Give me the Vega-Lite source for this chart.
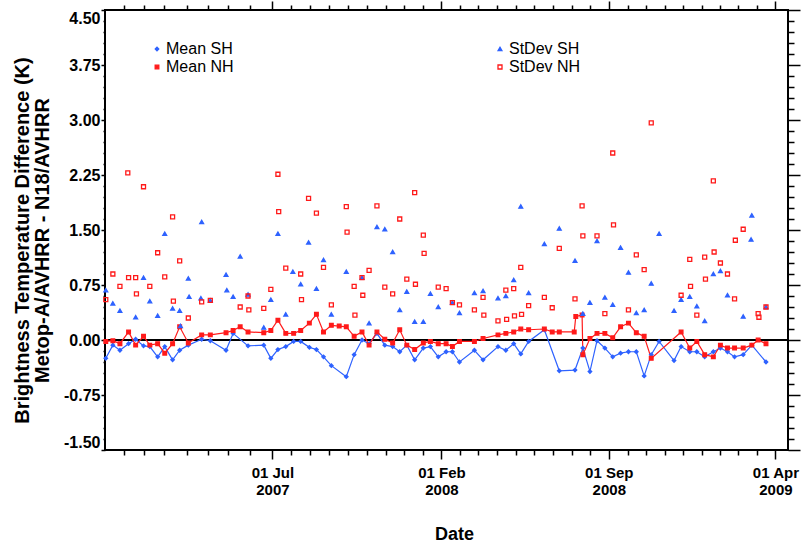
{
"$schema": "https://vega.github.io/schema/vega-lite/v6.json",
"width": 683, "height": 440,
"autosize": {"type": "none"},
"padding": {"left": 105, "top": 10, "right": 13, "bottom": 92},
"background": "white",
"config": {
  "view": {"stroke": "black", "strokeWidth": 2},
  "font": "Liberation Sans",
  "axis": {"grid": false, "domain": false, "ticks": true, "labelColor": "black", "titleColor": "black", "labelFont": "Liberation Sans", "titleFont": "Liberation Sans", "labelFontWeight": "bold", "titleFontWeight": "bold", "labelOverlap": false},
  "legend": {"orient": "none", "legendX": 44, "legendY": 31, "columns": 2, "columnPadding": 258, "rowPadding": 2, "padding": 0, "labelFontSize": 16, "labelFont": "Liberation Sans", "labelOffset": 1, "symbolStrokeWidth": 1.3}
},
"data": {"values": [
{"date":"2006-12-01","series":"Mean SH","value":-0.25},{"date":"2006-12-10","series":"Mean SH","value":-0.07},{"date":"2006-12-19","series":"Mean SH","value":-0.14},{"date":"2006-12-30","series":"Mean SH","value":-0.05},{"date":"2007-01-08","series":"Mean SH","value":0.01},{"date":"2007-01-18","series":"Mean SH","value":-0.08},{"date":"2007-01-26","series":"Mean SH","value":-0.09},{"date":"2007-02-05","series":"Mean SH","value":-0.23},{"date":"2007-02-14","series":"Mean SH","value":-0.09},{"date":"2007-02-24","series":"Mean SH","value":-0.27},{"date":"2007-03-05","series":"Mean SH","value":-0.14},{"date":"2007-03-16","series":"Mean SH","value":-0.07},{"date":"2007-04-02","series":"Mean SH","value":0.01},{"date":"2007-04-13","series":"Mean SH","value":-0.01},{"date":"2007-05-03","series":"Mean SH","value":-0.14},{"date":"2007-05-12","series":"Mean SH","value":0.09},{"date":"2007-05-31","series":"Mean SH","value":-0.08},{"date":"2007-06-20","series":"Mean SH","value":-0.07},{"date":"2007-06-29","series":"Mean SH","value":-0.25},{"date":"2007-07-08","series":"Mean SH","value":-0.13},{"date":"2007-07-18","series":"Mean SH","value":-0.09},{"date":"2007-07-28","series":"Mean SH","value":-0.02},{"date":"2007-08-06","series":"Mean SH","value":-0.02},{"date":"2007-08-17","series":"Mean SH","value":-0.10},{"date":"2007-08-26","series":"Mean SH","value":-0.13},{"date":"2007-09-04","series":"Mean SH","value":-0.23},{"date":"2007-09-14","series":"Mean SH","value":-0.35},{"date":"2007-10-03","series":"Mean SH","value":-0.50},{"date":"2007-10-13","series":"Mean SH","value":-0.20},{"date":"2007-10-23","series":"Mean SH","value":0.00},{"date":"2007-11-01","series":"Mean SH","value":-0.05},{"date":"2007-11-11","series":"Mean SH","value":0.09},{"date":"2007-11-21","series":"Mean SH","value":-0.07},{"date":"2007-12-01","series":"Mean SH","value":-0.09},{"date":"2007-12-10","series":"Mean SH","value":-0.16},{"date":"2007-12-19","series":"Mean SH","value":-0.07},{"date":"2007-12-29","series":"Mean SH","value":-0.27},{"date":"2008-01-09","series":"Mean SH","value":-0.11},{"date":"2008-01-18","series":"Mean SH","value":-0.09},{"date":"2008-01-28","series":"Mean SH","value":-0.23},{"date":"2008-02-07","series":"Mean SH","value":-0.16},{"date":"2008-02-15","series":"Mean SH","value":-0.16},{"date":"2008-02-24","series":"Mean SH","value":-0.30},{"date":"2008-03-14","series":"Mean SH","value":-0.14},{"date":"2008-03-25","series":"Mean SH","value":-0.27},{"date":"2008-04-13","series":"Mean SH","value":-0.09},{"date":"2008-04-23","series":"Mean SH","value":-0.14},{"date":"2008-05-03","series":"Mean SH","value":-0.05},{"date":"2008-05-12","series":"Mean SH","value":-0.19},{"date":"2008-05-22","series":"Mean SH","value":-0.02},{"date":"2008-06-11","series":"Mean SH","value":0.14},{"date":"2008-06-30","series":"Mean SH","value":-0.42},{"date":"2008-07-20","series":"Mean SH","value":-0.41},{"date":"2008-07-30","series":"Mean SH","value":-0.11},{"date":"2008-08-08","series":"Mean SH","value":-0.43},{"date":"2008-08-17","series":"Mean SH","value":-0.01},{"date":"2008-08-27","series":"Mean SH","value":-0.11},{"date":"2008-09-06","series":"Mean SH","value":-0.23},{"date":"2008-09-16","series":"Mean SH","value":-0.18},{"date":"2008-09-26","series":"Mean SH","value":-0.16},{"date":"2008-10-06","series":"Mean SH","value":-0.16},{"date":"2008-10-16","series":"Mean SH","value":-0.49},{"date":"2008-10-25","series":"Mean SH","value":-0.20},{"date":"2008-11-04","series":"Mean SH","value":-0.02},{"date":"2008-11-23","series":"Mean SH","value":-0.28},{"date":"2008-12-02","series":"Mean SH","value":-0.09},{"date":"2008-12-13","series":"Mean SH","value":-0.16},{"date":"2008-12-22","series":"Mean SH","value":-0.16},{"date":"2009-01-01","series":"Mean SH","value":-0.23},{"date":"2009-01-12","series":"Mean SH","value":-0.16},{"date":"2009-01-21","series":"Mean SH","value":-0.11},{"date":"2009-01-30","series":"Mean SH","value":-0.16},{"date":"2009-02-08","series":"Mean SH","value":-0.23},{"date":"2009-02-19","series":"Mean SH","value":-0.20},{"date":"2009-03-02","series":"Mean SH","value":-0.07},{"date":"2009-03-20","series":"Mean SH","value":-0.30},
{"date":"2006-12-01","series":"Mean NH","value":-0.02},{"date":"2006-12-10","series":"Mean NH","value":-0.01},{"date":"2006-12-19","series":"Mean NH","value":-0.05},{"date":"2006-12-30","series":"Mean NH","value":0.11},{"date":"2007-01-08","series":"Mean NH","value":-0.07},{"date":"2007-01-18","series":"Mean NH","value":0.05},{"date":"2007-01-26","series":"Mean NH","value":-0.07},{"date":"2007-02-05","series":"Mean NH","value":-0.05},{"date":"2007-02-14","series":"Mean NH","value":-0.18},{"date":"2007-02-24","series":"Mean NH","value":-0.05},{"date":"2007-03-05","series":"Mean NH","value":0.18},{"date":"2007-03-16","series":"Mean NH","value":-0.04},{"date":"2007-04-02","series":"Mean NH","value":0.07},{"date":"2007-04-13","series":"Mean NH","value":0.07},{"date":"2007-05-03","series":"Mean NH","value":0.10},{"date":"2007-05-12","series":"Mean NH","value":0.13},{"date":"2007-05-21","series":"Mean NH","value":0.18},{"date":"2007-05-31","series":"Mean NH","value":0.11},{"date":"2007-06-20","series":"Mean NH","value":0.10},{"date":"2007-06-29","series":"Mean NH","value":0.13},{"date":"2007-07-08","series":"Mean NH","value":0.27},{"date":"2007-07-18","series":"Mean NH","value":0.09},{"date":"2007-07-28","series":"Mean NH","value":0.09},{"date":"2007-08-06","series":"Mean NH","value":0.13},{"date":"2007-08-17","series":"Mean NH","value":0.23},{"date":"2007-08-26","series":"Mean NH","value":0.35},{"date":"2007-09-04","series":"Mean NH","value":0.11},{"date":"2007-09-14","series":"Mean NH","value":0.20},{"date":"2007-09-24","series":"Mean NH","value":0.19},{"date":"2007-10-03","series":"Mean NH","value":0.18},{"date":"2007-10-13","series":"Mean NH","value":0.05},{"date":"2007-10-23","series":"Mean NH","value":0.11},{"date":"2007-11-01","series":"Mean NH","value":-0.07},{"date":"2007-11-11","series":"Mean NH","value":0.11},{"date":"2007-11-21","series":"Mean NH","value":0.01},{"date":"2007-12-01","series":"Mean NH","value":-0.04},{"date":"2007-12-10","series":"Mean NH","value":0.14},{"date":"2007-12-19","series":"Mean NH","value":-0.07},{"date":"2007-12-29","series":"Mean NH","value":-0.13},{"date":"2008-01-09","series":"Mean NH","value":-0.04},{"date":"2008-01-18","series":"Mean NH","value":-0.02},{"date":"2008-01-28","series":"Mean NH","value":-0.05},{"date":"2008-02-07","series":"Mean NH","value":-0.05},{"date":"2008-02-15","series":"Mean NH","value":-0.09},{"date":"2008-02-24","series":"Mean NH","value":-0.02},{"date":"2008-03-14","series":"Mean NH","value":-0.02},{"date":"2008-03-25","series":"Mean NH","value":0.02},{"date":"2008-04-13","series":"Mean NH","value":0.07},{"date":"2008-04-23","series":"Mean NH","value":0.09},{"date":"2008-05-03","series":"Mean NH","value":0.11},{"date":"2008-05-12","series":"Mean NH","value":0.15},{"date":"2008-05-22","series":"Mean NH","value":0.14},{"date":"2008-06-11","series":"Mean NH","value":0.15},{"date":"2008-06-21","series":"Mean NH","value":0.11},{"date":"2008-06-30","series":"Mean NH","value":0.11},{"date":"2008-07-19","series":"Mean NH","value":0.11},{"date":"2008-07-21","series":"Mean NH","value":0.32},{"date":"2008-07-29","series":"Mean NH","value":0.34},{"date":"2008-07-30","series":"Mean NH","value":-0.20},{"date":"2008-08-08","series":"Mean NH","value":0.02},{"date":"2008-08-17","series":"Mean NH","value":0.09},{"date":"2008-08-27","series":"Mean NH","value":0.09},{"date":"2008-09-06","series":"Mean NH","value":0.03},{"date":"2008-09-16","series":"Mean NH","value":0.18},{"date":"2008-09-26","series":"Mean NH","value":0.23},{"date":"2008-10-06","series":"Mean NH","value":0.10},{"date":"2008-10-16","series":"Mean NH","value":0.05},{"date":"2008-10-25","series":"Mean NH","value":-0.25},{"date":"2008-12-02","series":"Mean NH","value":0.11},{"date":"2008-12-13","series":"Mean NH","value":-0.11},{"date":"2008-12-22","series":"Mean NH","value":-0.02},{"date":"2009-01-01","series":"Mean NH","value":-0.20},{"date":"2009-01-12","series":"Mean NH","value":-0.23},{"date":"2009-01-21","series":"Mean NH","value":-0.07},{"date":"2009-01-30","series":"Mean NH","value":-0.11},{"date":"2009-02-08","series":"Mean NH","value":-0.11},{"date":"2009-02-19","series":"Mean NH","value":-0.11},{"date":"2009-03-02","series":"Mean NH","value":-0.07},{"date":"2009-03-10","series":"Mean NH","value":0.00},{"date":"2009-03-20","series":"Mean NH","value":-0.05},
{"date":"2006-12-01","series":"StDev SH","value":0.68},{"date":"2006-12-10","series":"StDev SH","value":0.50},{"date":"2006-12-19","series":"StDev SH","value":0.40},{"date":"2007-01-08","series":"StDev SH","value":0.31},{"date":"2007-01-18","series":"StDev SH","value":0.85},{"date":"2007-01-26","series":"StDev SH","value":0.53},{"date":"2007-02-05","series":"StDev SH","value":0.33},{"date":"2007-02-14","series":"StDev SH","value":1.45},{"date":"2007-02-24","series":"StDev SH","value":0.43},{"date":"2007-03-05","series":"StDev SH","value":0.40},{"date":"2007-03-06","series":"StDev SH","value":0.19},{"date":"2007-03-16","series":"StDev SH","value":0.84},{"date":"2007-03-17","series":"StDev SH","value":0.59},{"date":"2007-04-02","series":"StDev SH","value":1.61},{"date":"2007-04-01","series":"StDev SH","value":0.57},{"date":"2007-04-13","series":"StDev SH","value":0.54},{"date":"2007-05-03","series":"StDev SH","value":0.89},{"date":"2007-05-04","series":"StDev SH","value":0.68},{"date":"2007-05-12","series":"StDev SH","value":0.59},{"date":"2007-05-21","series":"StDev SH","value":1.14},{"date":"2007-05-31","series":"StDev SH","value":0.62},{"date":"2007-06-20","series":"StDev SH","value":0.17},{"date":"2007-06-29","series":"StDev SH","value":0.55},{"date":"2007-07-08","series":"StDev SH","value":1.45},{"date":"2007-07-18","series":"StDev SH","value":0.35},{"date":"2007-07-27","series":"StDev SH","value":0.93},{"date":"2007-08-06","series":"StDev SH","value":0.76},{"date":"2007-08-16","series":"StDev SH","value":1.33},{"date":"2007-08-26","series":"StDev SH","value":0.70},{"date":"2007-09-04","series":"StDev SH","value":1.09},{"date":"2007-09-14","series":"StDev SH","value":0.35},{"date":"2007-10-03","series":"StDev SH","value":0.93},{"date":"2007-10-23","series":"StDev SH","value":0.85},{"date":"2007-11-01","series":"StDev SH","value":0.23},{"date":"2007-11-11","series":"StDev SH","value":1.54},{"date":"2007-11-21","series":"StDev SH","value":1.51},{"date":"2007-12-01","series":"StDev SH","value":1.20},{"date":"2007-12-10","series":"StDev SH","value":0.41},{"date":"2007-12-19","series":"StDev SH","value":0.66},{"date":"2007-12-29","series":"StDev SH","value":0.25},{"date":"2008-01-09","series":"StDev SH","value":0.25},{"date":"2008-01-18","series":"StDev SH","value":0.63},{"date":"2008-01-28","series":"StDev SH","value":0.45},{"date":"2008-02-15","series":"StDev SH","value":0.51},{"date":"2008-02-24","series":"StDev SH","value":0.37},{"date":"2008-03-14","series":"StDev SH","value":0.64},{"date":"2008-03-25","series":"StDev SH","value":0.67},{"date":"2008-04-13","series":"StDev SH","value":0.57},{"date":"2008-04-23","series":"StDev SH","value":0.60},{"date":"2008-05-03","series":"StDev SH","value":0.82},{"date":"2008-05-12","series":"StDev SH","value":1.82},{"date":"2008-05-22","series":"StDev SH","value":0.64},{"date":"2008-06-11","series":"StDev SH","value":1.31},{"date":"2008-06-30","series":"StDev SH","value":1.52},{"date":"2008-07-20","series":"StDev SH","value":1.08},{"date":"2008-07-30","series":"StDev SH","value":0.36},{"date":"2008-08-08","series":"StDev SH","value":0.51},{"date":"2008-08-17","series":"StDev SH","value":1.35},{"date":"2008-08-27","series":"StDev SH","value":0.58},{"date":"2008-09-06","series":"StDev SH","value":0.48},{"date":"2008-09-16","series":"StDev SH","value":1.26},{"date":"2008-09-26","series":"StDev SH","value":0.92},{"date":"2008-10-06","series":"StDev SH","value":0.37},{"date":"2008-10-16","series":"StDev SH","value":0.41},{"date":"2008-10-25","series":"StDev SH","value":0.77},{"date":"2008-11-04","series":"StDev SH","value":1.45},{"date":"2008-11-23","series":"StDev SH","value":0.40},{"date":"2008-12-02","series":"StDev SH","value":0.55},{"date":"2008-12-13","series":"StDev SH","value":0.59},{"date":"2008-12-22","series":"StDev SH","value":0.46},{"date":"2009-01-01","series":"StDev SH","value":0.26},{"date":"2009-01-12","series":"StDev SH","value":0.90},{"date":"2009-01-21","series":"StDev SH","value":0.94},{"date":"2009-01-30","series":"StDev SH","value":0.61},{"date":"2009-02-19","series":"StDev SH","value":0.32},{"date":"2009-03-02","series":"StDev SH","value":1.70},{"date":"2009-03-01","series":"StDev SH","value":1.37},{"date":"2009-03-20","series":"StDev SH","value":0.45},
{"date":"2006-12-01","series":"StDev NH","value":0.55},{"date":"2006-12-10","series":"StDev NH","value":0.90},{"date":"2006-12-19","series":"StDev NH","value":0.73},{"date":"2006-12-29","series":"StDev NH","value":2.28},{"date":"2006-12-30","series":"StDev NH","value":0.85},{"date":"2007-01-08","series":"StDev NH","value":0.85},{"date":"2007-01-09","series":"StDev NH","value":0.63},{"date":"2007-01-18","series":"StDev NH","value":2.09},{"date":"2007-01-26","series":"StDev NH","value":0.73},{"date":"2007-02-05","series":"StDev NH","value":1.19},{"date":"2007-02-14","series":"StDev NH","value":0.86},{"date":"2007-02-24","series":"StDev NH","value":1.68},{"date":"2007-02-25","series":"StDev NH","value":0.53},{"date":"2007-03-05","series":"StDev NH","value":1.08},{"date":"2007-03-16","series":"StDev NH","value":0.30},{"date":"2007-04-02","series":"StDev NH","value":0.52},{"date":"2007-04-13","series":"StDev NH","value":0.54},{"date":"2007-05-21","series":"StDev NH","value":0.45},{"date":"2007-05-31","series":"StDev NH","value":0.60},{"date":"2007-06-01","series":"StDev NH","value":0.41},{"date":"2007-06-20","series":"StDev NH","value":0.43},{"date":"2007-06-29","series":"StDev NH","value":0.69},{"date":"2007-07-08","series":"StDev NH","value":2.26},{"date":"2007-07-09","series":"StDev NH","value":1.75},{"date":"2007-07-18","series":"StDev NH","value":0.98},{"date":"2007-08-06","series":"StDev NH","value":0.90},{"date":"2007-08-07","series":"StDev NH","value":0.55},{"date":"2007-08-16","series":"StDev NH","value":1.93},{"date":"2007-08-26","series":"StDev NH","value":1.73},{"date":"2007-09-04","series":"StDev NH","value":0.99},{"date":"2007-09-14","series":"StDev NH","value":0.48},{"date":"2007-10-03","series":"StDev NH","value":1.82},{"date":"2007-10-04","series":"StDev NH","value":1.47},{"date":"2007-10-13","series":"StDev NH","value":0.73},{"date":"2007-10-14","series":"StDev NH","value":0.34},{"date":"2007-10-23","series":"StDev NH","value":0.85},{"date":"2007-10-24","series":"StDev NH","value":0.61},{"date":"2007-11-01","series":"StDev NH","value":0.95},{"date":"2007-11-11","series":"StDev NH","value":1.83},{"date":"2007-11-21","series":"StDev NH","value":0.72},{"date":"2007-12-01","series":"StDev NH","value":0.63},{"date":"2007-12-10","series":"StDev NH","value":1.65},{"date":"2007-12-19","series":"StDev NH","value":0.83},{"date":"2007-12-29","series":"StDev NH","value":2.01},{"date":"2007-12-30","series":"StDev NH","value":0.76},{"date":"2008-01-09","series":"StDev NH","value":1.43},{"date":"2008-01-10","series":"StDev NH","value":1.18},{"date":"2008-01-28","series":"StDev NH","value":0.72},{"date":"2008-02-07","series":"StDev NH","value":0.70},{"date":"2008-02-15","series":"StDev NH","value":0.51},{"date":"2008-02-24","series":"StDev NH","value":0.48},{"date":"2008-03-14","series":"StDev NH","value":0.41},{"date":"2008-03-25","series":"StDev NH","value":0.58},{"date":"2008-03-26","series":"StDev NH","value":0.34},{"date":"2008-04-13","series":"StDev NH","value":0.26},{"date":"2008-04-23","series":"StDev NH","value":0.68},{"date":"2008-04-24","series":"StDev NH","value":0.28},{"date":"2008-05-03","series":"StDev NH","value":0.70},{"date":"2008-05-04","series":"StDev NH","value":0.33},{"date":"2008-05-12","series":"StDev NH","value":0.99},{"date":"2008-05-13","series":"StDev NH","value":0.35},{"date":"2008-05-22","series":"StDev NH","value":0.47},{"date":"2008-06-11","series":"StDev NH","value":0.58},{"date":"2008-06-21","series":"StDev NH","value":0.44},{"date":"2008-06-30","series":"StDev NH","value":1.25},{"date":"2008-07-20","series":"StDev NH","value":0.56},{"date":"2008-07-29","series":"StDev NH","value":1.83},{"date":"2008-07-30","series":"StDev NH","value":1.42},{"date":"2008-08-17","series":"StDev NH","value":1.42},{"date":"2008-08-27","series":"StDev NH","value":0.36},{"date":"2008-09-06","series":"StDev NH","value":2.55},{"date":"2008-09-07","series":"StDev NH","value":1.57},{"date":"2008-09-26","series":"StDev NH","value":0.41},{"date":"2008-10-06","series":"StDev NH","value":1.16},{"date":"2008-10-16","series":"StDev NH","value":0.96},{"date":"2008-10-25","series":"StDev NH","value":2.96},{"date":"2008-12-02","series":"StDev NH","value":0.61},{"date":"2008-12-13","series":"StDev NH","value":1.10},{"date":"2008-12-14","series":"StDev NH","value":0.73},{"date":"2008-12-22","series":"StDev NH","value":0.34},{"date":"2009-01-01","series":"StDev NH","value":1.13},{"date":"2009-01-02","series":"StDev NH","value":0.83},{"date":"2009-01-12","series":"StDev NH","value":2.17},{"date":"2009-01-13","series":"StDev NH","value":1.20},{"date":"2009-01-21","series":"StDev NH","value":1.05},{"date":"2009-01-30","series":"StDev NH","value":0.90},{"date":"2009-02-08","series":"StDev NH","value":0.56},{"date":"2009-02-09","series":"StDev NH","value":1.36},{"date":"2009-02-19","series":"StDev NH","value":1.51},{"date":"2009-03-10","series":"StDev NH","value":0.36},{"date":"2009-03-11","series":"StDev NH","value":0.31},{"date":"2009-03-20","series":"StDev NH","value":0.45}
]},
"layer": [
  {"mark": {"type": "rule", "color": "black", "strokeWidth": 2},
   "encoding": {"y": {"datum": 0, "type": "quantitative", "scale": {"domain": [-1.5, 4.5], "nice": false, "zero": false}, "axis": null}}},
  {"transform": [{"filter": "datum.series === 'Mean SH' || datum.series === 'Mean NH'"}],
   "mark": {"type": "line", "strokeWidth": 1.2},
   "encoding": {
     "x": {"field": "date", "type": "temporal",
       "scale": {"type": "utc", "domain": [{"year": 2006, "month": 11, "date": 30, "utc": true}, {"year": 2009, "month": 4, "date": 17, "utc": true}]},
       "axis": {"orient": "bottom", "tickSize": 9, "tickColor": "black", "tickWidth": 1.5,
         "values": [{"year":2007,"month":7,"date":1,"utc":true},{"year":2008,"month":2,"date":1,"utc":true},{"year":2008,"month":9,"date":1,"utc":true},{"year":2009,"month":4,"date":1,"utc":true}],
         "labelExpr": "[utcFormat(datum.value, '%d %b'), utcFormat(datum.value, '%Y')]",
         "labelPadding": 6, "labelFontSize": 15, "labelLineHeight": 17, "labelFlush": false,
         "title": "Date", "titleFontSize": 18, "titleX": 349, "titleY": 89, "titleBaseline": "alphabetic"}},
     "y": {"field": "value", "type": "quantitative",
       "scale": {"domain": [-1.5, 4.5], "nice": false, "zero": false},
       "axis": {"orient": "left", "tickSize": 4, "tickColor": "black", "tickWidth": 1.5,
         "values": [-1.5, -0.75, 0, 0.75, 1.5, 2.25, 3, 3.75, 4.5],
         "labelExpr": "(datum.value < -0.001 ? '-' : '') + format(abs(datum.value), '.2f')",
         "labelPadding": 1, "labelFontSize": 16, "labelFlush": true,
         "title": ["Brightness Temperature Difference (K)", "Metop-A/AVHRR - N18/AVHRR"],
         "titleFontSize": 20, "titleLineHeight": 20, "titleAngle": 270, "titleX": -83, "titleY": 230, "titleBaseline": "middle", "titleAlign": "center"}},
     "color": {"field": "series", "type": "nominal", "scale": {"domain": ["Mean SH", "Mean NH"], "range": ["#2e62ff", "#ff1a1a"]}, "legend": null}
   }},
  {"mark": {"type": "point", "opacity": 1, "strokeWidth": 1.3},
   "encoding": {
     "x": {"field": "date", "type": "temporal",
       "scale": {"type": "utc", "domain": [{"year": 2006, "month": 11, "date": 30, "utc": true}, {"year": 2009, "month": 4, "date": 17, "utc": true}]},
       "axis": {"orient": "top", "labels": false, "title": null, "tickSize": 9, "tickColor": "black", "tickWidth": 1.5,
         "values": [{"year":2007,"month":7,"date":1,"utc":true},{"year":2008,"month":2,"date":1,"utc":true},{"year":2008,"month":9,"date":1,"utc":true},{"year":2009,"month":4,"date":1,"utc":true}]}},
     "y": {"field": "value", "type": "quantitative",
       "scale": {"domain": [-1.5, 4.5], "nice": false, "zero": false},
       "axis": {"orient": "right", "labels": false, "title": null, "tickSize": 12, "tickColor": "black", "tickWidth": 1.5,
         "values": [-1.5, -0.75, 0, 0.75, 1.5, 2.25, 3, 3.75, 4.5]}},
     "shape": {"field": "series", "type": "nominal", "title": null, "scale": {"domain": ["Mean SH", "Mean NH", "StDev SH", "StDev NH"], "range": ["diamond", "square", "triangle-up", "square"]},
       "legend": {"encode": {"labels": {"update": {"fill": {"scale": "stroke", "field": "value"}}}}}},
     "fill": {"field": "series", "type": "nominal", "title": null, "scale": {"domain": ["Mean SH", "Mean NH", "StDev SH", "StDev NH"], "range": ["#2e62ff", "#ff1a1a", "#2e62ff", "transparent"]},
       "legend": {"encode": {"labels": {"update": {"fill": {"scale": "stroke", "field": "value"}}}}}},
     "stroke": {"field": "series", "type": "nominal", "title": null, "scale": {"domain": ["Mean SH", "Mean NH", "StDev SH", "StDev NH"], "range": ["#2e62ff", "#ff1a1a", "#2e62ff", "#ff1a1a"]},
       "legend": {"encode": {"labels": {"update": {"fill": {"scale": "stroke", "field": "value"}}}}}},
     "size": {"field": "series", "type": "ordinal", "title": null, "scale": {"domain": ["Mean SH", "Mean NH", "StDev SH", "StDev NH"], "range": [12, 16, 28, 36]},
       "legend": {"encode": {"labels": {"update": {"fill": {"scale": "stroke", "field": "value"}}}}}}
   }},
  {"transform": [{"filter": "false"}],
   "mark": {"type": "point"},
   "encoding": {
     "x": {"field": "date", "type": "temporal",
       "scale": {"type": "utc", "domain": [{"year": 2006, "month": 11, "date": 30, "utc": true}, {"year": 2009, "month": 4, "date": 17, "utc": true}]},
       "axis": {"orient": "bottom", "labels": false, "title": null, "tickSize": 5, "tickColor": "black", "tickWidth": 1.5,
         "values": [{"year":2006,"month":12,"date":24,"utc":true},{"year":2007,"month":1,"date":19,"utc":true},{"year":2007,"month":2,"date":13,"utc":true},{"year":2007,"month":3,"date":14,"utc":true},{"year":2007,"month":4,"date":10,"utc":true},{"year":2007,"month":5,"date":6,"utc":true},{"year":2007,"month":6,"date":2,"utc":true},{"year":2007,"month":7,"date":25,"utc":true},{"year":2007,"month":8,"date":18,"utc":true},{"year":2007,"month":9,"date":11,"utc":true},{"year":2007,"month":10,"date":5,"utc":true},{"year":2007,"month":10,"date":29,"utc":true},{"year":2007,"month":11,"date":22,"utc":true},{"year":2007,"month":12,"date":16,"utc":true},{"year":2008,"month":1,"date":9,"utc":true},{"year":2008,"month":2,"date":25,"utc":true},{"year":2008,"month":3,"date":19,"utc":true},{"year":2008,"month":4,"date":12,"utc":true},{"year":2008,"month":5,"date":6,"utc":true},{"year":2008,"month":5,"date":29,"utc":true},{"year":2008,"month":6,"date":22,"utc":true},{"year":2008,"month":7,"date":16,"utc":true},{"year":2008,"month":8,"date":8,"utc":true},{"year":2008,"month":9,"date":25,"utc":true},{"year":2008,"month":10,"date":18,"utc":true},{"year":2008,"month":11,"date":11,"utc":true},{"year":2008,"month":12,"date":5,"utc":true},{"year":2008,"month":12,"date":28,"utc":true},{"year":2009,"month":1,"date":21,"utc":true},{"year":2009,"month":2,"date":13,"utc":true},{"year":2009,"month":3,"date":9,"utc":true}]}},
     "y": {"field": "value", "type": "quantitative",
       "scale": {"domain": [-1.5, 4.5], "nice": false, "zero": false},
       "axis": {"orient": "left", "labels": false, "title": null, "tickSize": 2, "tickColor": "black", "tickWidth": 1.5,
         "values": [-1.35,-1.2,-1.05,-0.9,-0.6,-0.45,-0.3,-0.15,0.15,0.3,0.45,0.6,0.9,1.05,1.2,1.35,1.65,1.8,1.95,2.1,2.4,2.55,2.7,2.85,3.15,3.3,3.45,3.6,3.9,4.05,4.2,4.35]}}
   }},
  {"transform": [{"filter": "false"}],
   "mark": {"type": "point"},
   "encoding": {
     "x": {"field": "date", "type": "temporal",
       "scale": {"type": "utc", "domain": [{"year": 2006, "month": 11, "date": 30, "utc": true}, {"year": 2009, "month": 4, "date": 17, "utc": true}]},
       "axis": {"orient": "top", "labels": false, "title": null, "tickSize": 5, "tickColor": "black", "tickWidth": 1.5,
         "values": [{"year":2006,"month":12,"date":24,"utc":true},{"year":2007,"month":1,"date":19,"utc":true},{"year":2007,"month":2,"date":13,"utc":true},{"year":2007,"month":3,"date":14,"utc":true},{"year":2007,"month":4,"date":10,"utc":true},{"year":2007,"month":5,"date":6,"utc":true},{"year":2007,"month":6,"date":2,"utc":true},{"year":2007,"month":7,"date":25,"utc":true},{"year":2007,"month":8,"date":18,"utc":true},{"year":2007,"month":9,"date":11,"utc":true},{"year":2007,"month":10,"date":5,"utc":true},{"year":2007,"month":10,"date":29,"utc":true},{"year":2007,"month":11,"date":22,"utc":true},{"year":2007,"month":12,"date":16,"utc":true},{"year":2008,"month":1,"date":9,"utc":true},{"year":2008,"month":2,"date":25,"utc":true},{"year":2008,"month":3,"date":19,"utc":true},{"year":2008,"month":4,"date":12,"utc":true},{"year":2008,"month":5,"date":6,"utc":true},{"year":2008,"month":5,"date":29,"utc":true},{"year":2008,"month":6,"date":22,"utc":true},{"year":2008,"month":7,"date":16,"utc":true},{"year":2008,"month":8,"date":8,"utc":true},{"year":2008,"month":9,"date":25,"utc":true},{"year":2008,"month":10,"date":18,"utc":true},{"year":2008,"month":11,"date":11,"utc":true},{"year":2008,"month":12,"date":5,"utc":true},{"year":2008,"month":12,"date":28,"utc":true},{"year":2009,"month":1,"date":21,"utc":true},{"year":2009,"month":2,"date":13,"utc":true},{"year":2009,"month":3,"date":9,"utc":true}]}},
     "y": {"field": "value", "type": "quantitative",
       "scale": {"domain": [-1.5, 4.5], "nice": false, "zero": false},
       "axis": {"orient": "right", "labels": false, "title": null, "tickSize": 6, "tickColor": "black", "tickWidth": 1.5,
         "values": [-1.35,-1.2,-1.05,-0.9,-0.6,-0.45,-0.3,-0.15,0.15,0.3,0.45,0.6,0.9,1.05,1.2,1.35,1.65,1.8,1.95,2.1,2.4,2.55,2.7,2.85,3.15,3.3,3.45,3.6,3.9,4.05,4.2,4.35]}}
   }}
],
"resolve": {"axis": {"x": "independent", "y": "independent"}}
}
